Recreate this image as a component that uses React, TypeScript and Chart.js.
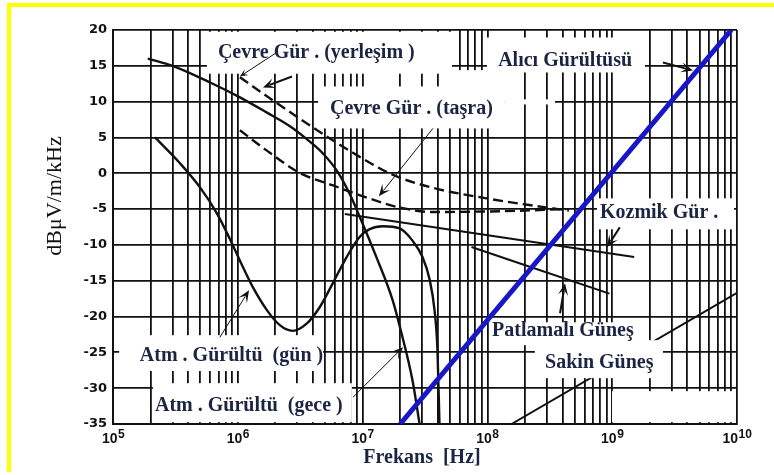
import React, { useEffect, useRef } from 'react';
import { Chart, registerables } from 'chart.js';

Chart.register(...registerables);

// Frequency axis decades (10^5 … 10^10)
const decadeValues = [1e5, 1e6, 1e7, 1e8, 1e9, 1e10];
const decadeBase = '10';
const decadeExponents = ['5', '6', '7', '8', '9', '10'];

// Level axis, dBμV/m/kHz
const levelMin = -35;
const levelMax = 20;
const levelStep = 5;

// Alıcı Gürültüsü
const receiverFreq = [2e7, 9e9];
const receiverLevel = [-35, 20];

// Atm. Gürültü (gece)
const nightFreq = [1.9e5, 3.0e5, 6.3e5, 1.04e6, 1.7e6, 2.6e6, 3.55e6, 4.79e6, 6.31e6, 7.94e6, 9.55e6, 1.29e7, 1.74e7, 2.0e7, 2.51e7, 2.86e7];
const nightLevel = [16, 15, 12.5, 10.6, 8.5, 6.6, 4.8, 2.8, 0.2, -3.0, -6.2, -11.7, -17.7, -21.6, -28.9, -35];

// Atm. Gürültü (gün)
const dayFreq = [2.17e5, 3.44e5, 5.0e5, 6.8e5, 8.6e5, 1.04e6, 1.32e6, 1.71e6, 2.17e6, 2.75e6, 3.56e6, 4.53e6, 5.75e6, 7.45e6, 9.46e6, 1.14e7, 1.45e7, 1.98e7, 2.51e7, 3.02e7, 3.44e7, 3.77e7, 3.98e7, 4.13e7];
const dayLevel = [5, 1.4, -2, -5.6, -9.1, -12.2, -15.9, -19.1, -21.2, -22, -21, -18.7, -15.4, -11.7, -8.9, -7.8, -7.4, -7.7, -9.4, -11.7, -14.8, -19.1, -24.7, -35];

// Çevre Gürültüsü (yerleşim)
const urbanFreq = [1.04e6, 1.9e6, 4.0e6, 8.3e6, 1.74e7, 3.6e7, 9.1e7, 2.3e8, 4.5e8];
const urbanLevel = [13.4, 10.2, 6.4, 2.9, -0.2, -2.0, -3.4, -4.5, -5.2];

// Çevre Gürültüsü (taşra)
const ruralFreq = [1.04e6, 1.7e6, 3.1e6, 5.8e6, 1.08e7, 2.0e7, 3.6e7, 1.25e8, 4.3e8];
const ruralLevel = [6, 3.2, 0.1, -1.7, -3.4, -4.8, -5.4, -5.3, -5.0];

// Kozmik Gürültü
const cosmicFreq = [7.2e6, 1.5e9];
const cosmicLevel = [-5.7, -11.7];

// Patlamalı Güneş
const burstFreq = [7.45e7, 9.5e8];
const burstLevel = [-10.3, -16.8];

// Sakin Güneş
const quietFreq = [1.56e8, 1e10];
const quietLevel = [-35, -16.7];

// White label panels (frequency / level corners) that break the grid
type Panel = { f1: number; f2: number; l1: number; l2: number };
const gridPanels: Panel[] = [
  { f1: 5.66e5, f2: 5.2e7, l1: 19.75, l2: 13.9 },
  { f1: 4.57e7, f2: 1.38e8, l1: 14.4, l2: 11.84 },
  { f1: 9.93e7, f2: 1.83e9, l1: 18.95, l2: 14.07 },
  { f1: 4.4e6, f2: 1.38e8, l1: 12.12, l2: 6.26 },
  { f1: 1.38e8, f2: 3.48e8, l1: 10.31, l2: 9.61 },
  { f1: 7.55e8, f2: 9.47e9, l1: -3.5, l2: -7.82 },
  { f1: 9.96e8, f2: 9.64e9, l1: -30.42, l2: -34.74 },
  { f1: 1.12e5, f2: 4.82e6, l1: -22.6, l2: -27.6 },
  { f1: 2.09e5, f2: 8.2e6, l1: -29.3, l2: -34.74 },
];
const curvePanels: Panel[] = [
  { f1: 1.09e8, f2: 1.94e9, l1: -20.8, l2: -24.0 },
  { f1: 2.4e8, f2: 2.55e9, l1: -23.3, l2: -28.6 },
];

// Curve captions (left edge frequency, centre level)
const captions = [
  { text: 'Çevre Gür . (yerleşim )', f: 6.93e5, l: 16.86 },
  { text: 'Alıcı Gürültüsü', f: 1.22e8, l: 15.75 },
  { text: 'Çevre Gür . (taşra)', f: 5.48e6, l: 9.05 },
  { text: 'Kozmik Gür .', f: 7.98e8, l: -5.59 },
  { text: 'Patlamalı Güneş', f: 1.09e8, l: -22.05 },
  { text: 'Sakin Güneş', f: 2.9e8, l: -26.5 },
  { text: 'Atm . Gürültü  (gün )', f: 1.64e5, l: -25.5 },
  { text: 'Atm . Gürültü  (gece )', f: 2.17e5, l: -32.5 },
];

// Pointer arrows from captions to curves (tail -> head)
const pointers = [
  { f1: 1.99e6, l1: 16.72, f2: 1.04e6, l2: 13.51, w: 1, head: 8 },
  { f1: 2.72e6, l1: 13.51, f2: 1.59e6, l2: 11.98, w: 2, head: 12 },
  { f1: 3.66e7, l1: 6.26, f2: 1.35e7, l2: -3.22, w: 1, head: 12 },
  { f1: 2.55e9, l1: 15.47, f2: 4.44e9, l2: 14.35, w: 2, head: 12 },
  { f1: 1.15e9, l1: -7.55, f2: 9.08e8, l2: -10.33, w: 2, head: 12 },
  { f1: 3.82e8, l1: -19.54, f2: 4.19e8, l2: -15.36, w: 2, head: 12 },
  { f1: 7.19e5, l1: -22.89, f2: 1.23e6, l2: -16.33, w: 1, head: 12 },
  { f1: 8.37e6, l1: -31.26, f2: 2.11e7, l2: -24.28, w: 1, head: 12 },
];

const xTitle = 'Frekans  [Hz]';
const yTitle = 'dBμV/m/kHz';

const INK = '#111111';
const NAVY = '#1b2442';

const toPoints = (xs: number[], ys: number[]) => xs.map((x, i) => ({ x, y: ys[i] }));

// grid positions: 1..9 x each decade
const gridFreqs: number[] = [];
for (let d = 0; d < decadeValues.length - 1; d++) {
  for (let m = 1; m <= 9; m++) gridFreqs.push(m * decadeValues[d]);
}
gridFreqs.push(decadeValues[decadeValues.length - 1]);

function fillPanels(chart: any, panels: Panel[]) {
  const { ctx, scales } = chart;
  const xs = scales.x;
  const ys = scales.y;
  ctx.save();
  ctx.fillStyle = '#ffffff';
  panels.forEach((p) => {
    const x1 = xs.getPixelForValue(p.f1);
    const x2 = xs.getPixelForValue(p.f2);
    const y1 = ys.getPixelForValue(p.l1);
    const y2 = ys.getPixelForValue(p.l2);
    ctx.fillRect(x1, y1, x2 - x1, y2 - y1);
  });
  ctx.restore();
}

function drawPointer(ctx: CanvasRenderingContext2D, x1: number, y1: number, x2: number, y2: number, w: number, head: number) {
  const a = Math.atan2(y2 - y1, x2 - x1);
  const c = Math.cos(a);
  const s = Math.sin(a);
  const half = head * 0.42;
  ctx.lineWidth = w;
  ctx.beginPath();
  ctx.moveTo(x1, y1);
  ctx.lineTo(x2 - c * head * 0.6, y2 - s * head * 0.6);
  ctx.stroke();
  ctx.beginPath();
  ctx.moveTo(x2, y2);
  ctx.lineTo(x2 - head * c + half * s, y2 - head * s - half * c);
  ctx.lineTo(x2 - head * 0.55 * c, y2 - head * 0.55 * s);
  ctx.lineTo(x2 - head * c - half * s, y2 - head * s + half * c);
  ctx.closePath();
  ctx.fill();
}

const overlayPlugin = {
  id: 'noiseOverlay',
  beforeDatasetsDraw(chart: any) {
    fillPanels(chart, gridPanels);
  },
  afterDatasetsDraw(chart: any) {
    fillPanels(chart, curvePanels);
    const { ctx, scales } = chart;
    const xs = scales.x;
    const ys = scales.y;
    ctx.save();

    // captions
    ctx.fillStyle = NAVY;
    ctx.font = 'bold 20px "Liberation Serif", "Times New Roman", serif';
    ctx.textAlign = 'left';
    ctx.textBaseline = 'middle';
    captions.forEach((c) => {
      ctx.fillText(c.text, xs.getPixelForValue(c.f), ys.getPixelForValue(c.l));
    });

    // pointers
    ctx.strokeStyle = INK;
    ctx.fillStyle = INK;
    pointers.forEach((p) => {
      drawPointer(
        ctx,
        xs.getPixelForValue(p.f1),
        ys.getPixelForValue(p.l1),
        xs.getPixelForValue(p.f2),
        ys.getPixelForValue(p.l2),
        p.w,
        p.head,
      );
    });

    // decade tick labels with raised exponent
    const base = ys.getPixelForValue(levelMin) + 19;
    const baseFont = 'bold 14px "Liberation Sans", Arial, sans-serif';
    const expFont = 'bold 12px "Liberation Sans", Arial, sans-serif';
    decadeValues.forEach((v, i) => {
      const px = xs.getPixelForValue(v);
      ctx.font = baseFont;
      const wb = ctx.measureText(decadeBase).width;
      ctx.font = expFont;
      const we = ctx.measureText(decadeExponents[i]).width;
      const left = px - (wb + we) / 2;
      ctx.fillStyle = INK;
      ctx.textAlign = 'left';
      ctx.textBaseline = 'alphabetic';
      ctx.font = baseFont;
      ctx.fillText(decadeBase, left, base);
      ctx.font = expFont;
      ctx.fillText(decadeExponents[i], left + wb + 0.5, base - 5);
    });

    // axis titles
    ctx.fillStyle = NAVY;
    ctx.font = 'bold 20px "Liberation Serif", "Times New Roman", serif';
    ctx.textAlign = 'center';
    ctx.textBaseline = 'middle';
    ctx.fillText(xTitle, (xs.left + xs.right) / 2 - 3, ys.bottom + 34);

    ctx.fillStyle = INK;
    ctx.font = '22px "Liberation Serif", "Times New Roman", serif';
    ctx.translate(55, 196);
    ctx.rotate(-Math.PI / 2);
    ctx.fillText(yTitle, 0, 0);
    ctx.restore();
  },
};

export default function App() {
  const canvasRef = useRef<HTMLCanvasElement | null>(null);

  useEffect(() => {
    if (!canvasRef.current) return;
    const line = (data: any[], width: number, color = INK, dash: number[] = []) => ({
      data,
      borderColor: color,
      borderWidth: width,
      borderDash: dash,
      pointRadius: 0,
      fill: false,
      cubicInterpolationMode: 'monotone' as const,
    });

    const chart = new Chart(canvasRef.current, {
      type: 'line',
      data: {
        datasets: [
          line(toPoints(receiverFreq, receiverLevel), 5, '#1717c8'),
          line(toPoints(nightFreq, nightLevel), 2.4),
          line(toPoints(dayFreq, dayLevel), 2.4),
          line(toPoints(urbanFreq, urbanLevel), 2.4, INK, [10, 5]),
          line(toPoints(ruralFreq, ruralLevel), 2.4, INK, [10, 5]),
          line(toPoints(cosmicFreq, cosmicLevel), 2),
          line(toPoints(burstFreq, burstLevel), 2),
          line(toPoints(quietFreq, quietLevel), 2),
        ],
      },
      options: {
        responsive: false,
        animation: false,
        events: [],
        layout: { padding: { left: 0, top: 30, right: 37, bottom: 0 } },
        plugins: { legend: { display: false }, tooltip: { enabled: false } },
        scales: {
          x: {
            type: 'logarithmic',
            min: decadeValues[0],
            max: decadeValues[decadeValues.length - 1],
            afterBuildTicks: (scale: any) => {
              scale.ticks = gridFreqs.map((value) => ({ value }));
            },
            afterFit: (scale: any) => {
              scale.height = 51;
            },
            ticks: { display: false },
            grid: { color: INK, lineWidth: 1.8, drawTicks: false },
            border: { display: true, color: INK, width: 2 },
          },
          y: {
            type: 'linear',
            min: levelMin,
            max: levelMax,
            afterFit: (scale: any) => {
              scale.width = 113;
            },
            ticks: {
              stepSize: levelStep,
              padding: 6,
              color: INK,
              font: { family: '"DejaVu Sans", sans-serif', weight: 'bold', size: 13 },
            },
            grid: { color: INK, lineWidth: 1.8, drawTicks: false },
            border: { display: true, color: INK, width: 2 },
          },
        },
      },
      plugins: [overlayPlugin],
    });
    return () => chart.destroy();
  }, []);

  return (
    <div style={{ position: 'fixed', left: 0, top: 0, width: 774, height: 475, background: '#ffffff' }}>
      <canvas ref={canvasRef} width={774} height={475} style={{ position: 'absolute', left: 0, top: 0 }} />
      <div style={{ position: 'absolute', left: 7, top: 3, width: 767, height: 4, background: '#ffff00' }} />
      <div style={{ position: 'absolute', left: 7, top: 3, width: 4, height: 469, background: '#ffff00' }} />
    </div>
  );
}
